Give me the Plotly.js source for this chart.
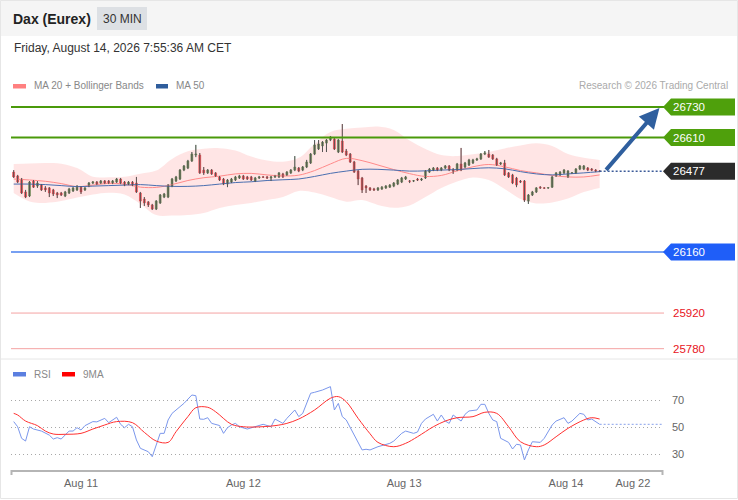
<!DOCTYPE html>
<html><head><meta charset="utf-8">
<script src="https://cdn.plot.ly/plotly-3.0.1.min.js"></script>
<style>html,body{margin:0;padding:0;background:#fff;overflow:hidden}#chart{width:738px;height:500px}</style>
</head><body><div id="chart"></div>
<script>
// ---- Candles (30 MIN bars, index 0..148) ----
const openP=[26474,26459,26447,26396,26380,26439,26419,26423,26412,26412,
26404,26392,26392,26380,26392,26400,26404,26415,26404,26419,
26431,26435,26431,26439,26439,26431,26435,26447,26435,26427,
26435,26431,26392,26368,26357,26345,26329,26353,26376,26376,
26419,26439,26447,26482,26490,26518,26541,26541,26482,26471,
26482,26471,26455,26447,26427,26435,26443,26451,26459,26455,
26455,26439,26451,26455,26455,26451,26455,26455,26467,26463,
26471,26482,26490,26482,26494,26510,26545,26565,26577,26588,
26600,26604,26553,26596,26557,26545,26514,26478,26451,26419,
26412,26408,26404,26408,26412,26415,26419,26427,26435,26447,
26439,26439,26447,26443,26451,26474,26482,26490,26482,26490,
26498,26482,26482,26506,26494,26502,26510,26522,26526,26545,
26545,26541,26526,26506,26510,26471,26463,26451,26439,26439,
26360,26384,26396,26415,26412,26412,26415,26459,26463,26471,
26455,26471,26471,26486,26486,26490,26486,26482,26478];
const closeP=[26455,26435,26392,26376,26435,26415,26431,26404,26404,26392,
26388,26384,26384,26396,26408,26412,26415,26396,26412,26431,
26435,26427,26439,26431,26431,26439,26447,26431,26423,26435,
26423,26396,26360,26353,26345,26329,26360,26384,26388,26423,
26447,26455,26482,26498,26518,26545,26545,26471,26471,26482,
26467,26459,26443,26427,26443,26447,26455,26459,26447,26447,
26443,26451,26455,26454,26451,26455,26459,26471,26455,26474,
26482,26494,26478,26494,26514,26545,26581,26585,26592,26600,
26612,26565,26600,26553,26541,26514,26474,26447,26404,26412,
26404,26404,26412,26415,26419,26423,26431,26443,26451,26455,
26438,26440,26443,26447,26478,26486,26490,26482,26490,26498,
26482,26478,26506,26482,26510,26522,26522,26526,26545,26549,
26533,26526,26502,26510,26463,26455,26431,26423,26435,26364,
26384,26396,26412,26412,26411,26413,26455,26471,26474,26482,
26478,26472,26486,26498,26498,26482,26482,26478,26477];
const highP=[26482,26463,26451,26404,26439,26443,26439,26427,26419,26415,
26408,26396,26396,26400,26412,26415,26423,26419,26415,26435,
26439,26439,26443,26443,26443,26443,26451,26451,26439,26439,
26439,26455,26396,26376,26360,26349,26364,26388,26392,26427,
26451,26459,26486,26502,26522,26553,26581,26549,26494,26486,
26486,26474,26459,26451,26447,26451,26459,26463,26463,26459,
26459,26455,26459,26459,26459,26459,26463,26474,26471,26478,
26486,26537,26494,26498,26522,26549,26600,26600,26596,26604,
26616,26608,26604,26663,26565,26549,26518,26482,26455,26423,
26415,26412,26415,26419,26423,26427,26435,26447,26455,26459,
26443,26443,26451,26451,26482,26490,26494,26494,26494,26502,
26502,26490,26510,26569,26514,26526,26526,26530,26549,26557,
26561,26545,26530,26514,26522,26474,26467,26455,26443,26443,
26388,26400,26415,26419,26415,26415,26459,26474,26478,26486,
26482,26474,26490,26502,26502,26494,26490,26486,26482];
const lowP=[26451,26431,26388,26372,26376,26412,26412,26400,26396,26376,
26380,26372,26380,26376,26388,26396,26400,26388,26400,26415,
26427,26423,26427,26427,26427,26427,26431,26427,26419,26423,
26419,26392,26333,26341,26337,26325,26325,26349,26372,26372,
26415,26435,26443,26478,26486,26514,26533,26467,26463,26467,
26463,26455,26439,26423,26415,26431,26439,26447,26443,26443,
26439,26435,26447,26451,26447,26439,26451,26451,26451,26459,
26467,26478,26474,26478,26490,26506,26541,26561,26553,26553,
26596,26561,26549,26549,26537,26510,26471,26423,26392,26392,
26400,26400,26400,26404,26408,26412,26415,26423,26431,26443,
26431,26435,26439,26439,26447,26471,26478,26478,26478,26486,
26478,26467,26478,26478,26490,26498,26506,26518,26522,26541,
26530,26522,26498,26502,26459,26451,26427,26415,26431,26357,
26349,26380,26392,26408,26408,26408,26412,26455,26459,26467,
26451,26467,26467,26482,26482,26478,26478,26474,26474];

// ---- Moving averages & Bollinger bands (sampled every 4 bars) ----
const maIdx=[0,4,8,12,16,20,24,28,32,36,40,44,48,52,56,60,64,68,72,76,80,84,88,92,96,100,104,108,112,116,120,124,128,132,136,140,144,148];
const ma20=[26447,26443,26438,26429,26417,26423,26430,26427,26415,26414,26425,26441,26452,26458,26467,26469,26463,26459,26462,26480,26506,26528,26519,26502,26484,26468,26457,26461,26479,26495,26504,26495,26480,26471,26461,26455,26455,26463];
const ma50=[26427,26427,26425,26421,26417,26419,26421,26423,26425,26421,26418,26418,26421,26427,26433,26436,26441,26444,26447,26457,26469,26478,26485,26485,26482,26478,26479,26482,26484,26488,26491,26487,26476,26467,26463,26467,26471,26476];
const bbUpper=[26506,26508,26510,26507,26490,26456,26454,26456,26468,26480,26526,26556,26566,26568,26559,26535,26520,26515,26530,26585,26632,26644,26649,26653,26640,26598,26565,26541,26537,26544,26553,26567,26579,26587,26577,26545,26530,26522];
const bbLower=[26392,26359,26353,26360,26374,26386,26393,26386,26349,26305,26303,26305,26313,26333,26345,26353,26364,26376,26400,26394,26376,26358,26364,26345,26334,26343,26376,26412,26437,26453,26443,26408,26368,26351,26355,26370,26396,26412];

// ---- Key levels ----
const resistances=[26730,26610];
const lastPrice=[26477];
const supports=[26160];
const lowerSupports=[25920,25780];

// ---- RSI panel ----
const rsiIdx=[0,1,2,3,4,5,7,8,9,10,11,12,13,14,15,16,17,18,20,21,23,24,26,27,28,29,30,31,32,34,35,36,37,38,39,40,42,43,45,46,47,48,49,50,52,53,54,55,56,57,59,61,63,65,66,68,69,71,72,73,75,76,78,80,81,82,83,84,86,88,89,90,92,95,96,98,99,101,102,103,104,106,107,108,109,110,111,113,114,115,117,118,119,120,121,122,123,125,126,127,128,129,130,131,133,134,136,137,139,140,141,143,144,145,146,148];
const rsiVal=[54,50.2,41.6,39.6,50.2,48.5,47,45.3,44,41.1,42.1,41.1,44,47,47,49.5,47.8,51,54,53.8,56.4,53.2,57.2,52,49.5,52,50.2,40.4,34.2,31.7,28,36.7,45.3,45.3,55.2,60.1,65,67.5,73.7,73.2,55.9,55.7,56.9,52.7,51.1,45.3,49.5,51.5,52.7,50.2,48.5,50.2,52,50.2,55.9,52.7,56.4,62.6,57.7,60.1,75,75.7,77.4,79.9,62.6,67.5,57.7,55.2,44,33,33.5,33,35.4,37.9,39.6,45.3,47,45.3,46.3,52.7,55.9,59.4,54.4,58.9,54.4,52.7,58.9,54.4,59.4,61.9,62.6,66.8,66.8,60.1,55.2,54,41.6,38.6,33.7,37.2,36.7,25.6,33,39.1,38.6,41.6,51.5,54.4,56.9,52.7,54.4,60.1,59.4,55.2,55.9,52];
const rsiMaIdx=[0,1,3,6,8,10,13,17,20,23,26,30,33,36,39,41,44,46,49,51,55,58,61,66,69,72,76,80,82,84,87,90,92,96,99,102,106,109,112,116,119,122,125,128,132,134,137,140,144,146,148];
const rsiMaVal=[60.1,58.9,54.4,51,47,44.8,44.6,45.3,48.5,51.5,54,53.2,46,39.6,38.6,46.5,57.7,64.3,64.6,61.3,52,50.2,50,51,52.7,55.9,62.6,71.3,72.5,68.7,56.4,45,38.6,35.4,37.9,42.8,50.2,54.4,56.9,57.7,60.9,60.1,50.2,39.1,35.4,36.7,42.8,49,55.2,56.9,55.9];
const rsiLevels=[30,50,70];

// ---- Time axis ----
const tickPos=[17,58,98.6,139.5,156.4];
const tickText=['Aug 11','Aug 12','Aug 13','Aug 14','Aug 22'];

// ---------------- build ----------------
const PW=738, PH=500;
const fx=x=>x/PW, fy=y=>1-y/PH;
const XMAX=164, XMIN=-0.68;
const FONT='"Liberation Sans", Arial, sans-serif';
const nBars=closeP.length;
const barIdx=closeP.map((_,i)=>i);
const lastIdx=nBars-1;

const wx=[], wy=[];
for(let i=0;i<nBars;i++){wx.push(i,i,null);wy.push(lowP[i],highP[i],null);}

const traces=[
 {type:'scatter',x:maIdx,y:bbLower,mode:'lines',line:{width:0,shape:'spline',smoothing:1},hoverinfo:'skip',xaxis:'x',yaxis:'y'},
 {type:'scatter',x:maIdx,y:bbUpper,mode:'lines',line:{width:0,shape:'spline',smoothing:1},fill:'tonexty',fillcolor:'rgba(255,160,160,0.28)',hoverinfo:'skip',xaxis:'x',yaxis:'y'},
 {type:'scatter',x:maIdx,y:ma20,mode:'lines',line:{width:1,color:'#ff8a8a',shape:'spline'},hoverinfo:'skip',xaxis:'x',yaxis:'y'},
 {type:'scatter',x:maIdx,y:ma50,mode:'lines',line:{width:1,color:'#4a6fb0',shape:'spline'},hoverinfo:'skip',xaxis:'x',yaxis:'y'},
 {type:'scatter',x:wx,y:wy,mode:'lines',line:{width:1,color:'#555'},hoverinfo:'skip',connectgaps:false,xaxis:'x',yaxis:'y'},
 {type:'candlestick',x:barIdx,open:openP,high:highP,low:lowP,close:closeP,xaxis:'x',yaxis:'y',
  increasing:{line:{color:'#327a32',width:0.5},fillcolor:'#327a32'},
  decreasing:{line:{color:'#e31b23',width:0.5},fillcolor:'#e31b23'},whiskerwidth:0,hoverinfo:'skip'},
 {type:'scatter',x:[lastIdx,XMAX],y:[lastPrice[0],lastPrice[0]],mode:'lines',line:{width:1.5,color:'#3d5c99',dash:'2px,2px'},hoverinfo:'skip',xaxis:'x',yaxis:'y'},
 // RSI
 {type:'scatter',x:rsiIdx,y:rsiVal,mode:'lines',line:{width:1,color:'#7b97ec'},hoverinfo:'skip',xaxis:'x2',yaxis:'y2'},
 {type:'scatter',x:rsiMaIdx,y:rsiMaVal,mode:'lines',line:{width:1,color:'#ff3030',shape:'spline'},hoverinfo:'skip',xaxis:'x2',yaxis:'y2'},
 {type:'scatter',x:[rsiIdx[rsiIdx.length-1],XMAX],y:[rsiVal[rsiVal.length-1],rsiVal[rsiVal.length-1]],mode:'lines',line:{width:1.2,color:'#9fb3ee',dash:'2px,2px'},hoverinfo:'skip',xaxis:'x2',yaxis:'y2'}
];

const shapes=[
 {type:'rect',xref:'paper',yref:'paper',x0:0,x1:1,y0:fy(36),y1:1,fillcolor:'#f5f5f5',line:{width:0},layer:'below'},
 {type:'rect',xref:'paper',yref:'paper',x0:fx(97),x1:fx(147),y0:fy(30),y1:fy(7),fillcolor:'#dde0e4',line:{width:0},layer:'below'},
 {type:'rect',xref:'paper',yref:'paper',x0:fx(0.5),x1:fx(737.5),y0:fy(498.5),y1:fy(0.5),line:{width:1,color:'#e6e6e6'}},
 {type:'line',xref:'paper',yref:'paper',x0:0,x1:1,y0:fy(359),y1:fy(359),line:{width:1,color:'#e6e6e6'}},
 // legend swatches
 {type:'rect',xref:'paper',yref:'paper',x0:fx(13),x1:fx(26),y0:fy(88.5),y1:fy(84),fillcolor:'#ff8080',line:{width:0}},
 {type:'rect',xref:'paper',yref:'paper',x0:fx(156),x1:fx(168),y0:fy(88.5),y1:fy(84),fillcolor:'#2f5d9c',line:{width:0}},
 {type:'rect',xref:'paper',yref:'paper',x0:fx(13),x1:fx(26),y0:fy(376.5),y1:fy(372),fillcolor:'#5b7fe0',line:{width:0}},
 {type:'rect',xref:'paper',yref:'paper',x0:fx(62),x1:fx(75),y0:fy(376.5),y1:fy(372),fillcolor:'#ff0000',line:{width:0}},
 // RSI axis end ticks
 {type:'line',xref:'paper',yref:'paper',x0:fx(11.5),x1:fx(11.5),y0:fy(470),y1:fy(475),line:{width:2,color:'#b5b5b5'}},
 {type:'line',xref:'paper',yref:'paper',x0:fx(662.5),x1:fx(662.5),y0:fy(470),y1:fy(475),line:{width:2,color:'#b5b5b5'}}
];
const annotations=[
 {xref:'paper',yref:'paper',x:fx(11),y:fy(18.5),xanchor:'left',yanchor:'middle',text:'<b>Dax (Eurex)</b>',showarrow:false,font:{size:14,color:'#222',family:FONT}},
 {xref:'paper',yref:'paper',x:fx(122),y:fy(18.5),xanchor:'center',yanchor:'middle',text:'30 MIN',showarrow:false,font:{size:12,color:'#333',family:FONT}},
 {xref:'paper',yref:'paper',x:fx(12),y:fy(48),xanchor:'left',yanchor:'middle',text:'Friday, August 14, 2026 7:55:36 AM CET',showarrow:false,font:{size:12,color:'#333',family:FONT}},
 {xref:'paper',yref:'paper',x:fx(32),y:fy(86),xanchor:'left',yanchor:'middle',text:'MA 20 + Bollinger Bands',showarrow:false,font:{size:10,color:'#888',family:FONT}},
 {xref:'paper',yref:'paper',x:fx(174),y:fy(86),xanchor:'left',yanchor:'middle',text:'MA 50',showarrow:false,font:{size:10,color:'#888',family:FONT}},
 {xref:'paper',yref:'paper',x:fx(730),y:fy(86),xanchor:'right',yanchor:'middle',text:'Research © 2026 Trading Central',showarrow:false,font:{size:10,color:'#aaa',family:FONT}},
 {xref:'paper',yref:'paper',x:fx(32),y:fy(374),xanchor:'left',yanchor:'middle',text:'RSI',showarrow:false,font:{size:10,color:'#888',family:FONT}},
 {xref:'paper',yref:'paper',x:fx(81),y:fy(374),xanchor:'left',yanchor:'middle',text:'9MA',showarrow:false,font:{size:10,color:'#888',family:FONT}},
 // forecast arrow
 {xref:'x',yref:'y',axref:'x',ayref:'y',x:XMAX-0.9,y:resistances[0]-4,ax:nBars+0.3,ay:lastPrice[0],showarrow:true,arrowhead:2,arrowsize:1,arrowwidth:4,arrowcolor:'#2f5f9e',text:'',standoff:0,startstandoff:0}
];

function addTag(v,color,lineColor,solidLine){
 if(solidLine) shapes.push({type:'line',xref:'paper',yref:'y',x0:fx(11),x1:fx(664),y0:v,y1:v,line:{width:2,color:lineColor}});
 shapes.push({type:'path',xref:'paper',yref:'y',xsizemode:'pixel',ysizemode:'pixel',xanchor:fx(663),yanchor:v,path:'M0,0L8,8.5L72,8.5L72,-8.5L8,-8.5Z',fillcolor:color,line:{width:0}});
 annotations.push({xref:'paper',yref:'y',x:fx(671),y:v,xanchor:'left',yanchor:'middle',text:String(v),showarrow:false,font:{size:11.5,color:'#fff',family:FONT}});
}
resistances.forEach(v=>addTag(v,'#4fa00c','#4a9a0a',true));
lastPrice.forEach(v=>addTag(v,'#2b2b2b','#2b2b2b',false));
supports.forEach(v=>addTag(v,'#1f5ef8','#77a0f2',true));
lowerSupports.forEach(v=>{
 shapes.push({type:'line',xref:'paper',yref:'y',x0:fx(11),x1:fx(664),y0:v,y1:v,line:{width:1,color:'#f4a3a3'}});
 annotations.push({xref:'paper',yref:'y',x:fx(671),y:v,xanchor:'left',yanchor:'middle',text:String(v),showarrow:false,font:{size:11.5,color:'#e8141c',family:FONT}});
});

const layout={
 width:PW,height:PH,margin:{l:0,r:0,t:0,b:0,autoexpand:false},
 paper_bgcolor:'#ffffff',plot_bgcolor:'rgba(0,0,0,0)',showlegend:false,
 font:{family:FONT,color:'#666'},
 xaxis:{domain:[fx(11),fx(663)],range:[XMIN,XMAX],visible:false,rangeslider:{visible:false},fixedrange:true},
 yaxis:{domain:[fy(357),fy(60)],range:[25747.3,26914.7],visible:false,fixedrange:true},
 xaxis2:{domain:[fx(11),fx(663)],range:[XMIN,XMAX],anchor:'y2',showline:true,linecolor:'#b5b5b5',linewidth:2,
   tickmode:'array',tickvals:tickPos,ticktext:tickText,ticks:'',showgrid:false,zeroline:false,
   tickfont:{size:11,color:'#666',family:FONT},ticklabelstandoff:2,fixedrange:true},
 yaxis2:{domain:[fy(470),fy(362)],range:[18.15,98.15],anchor:'x2',side:'right',tickmode:'array',tickvals:rsiLevels,
   showgrid:true,gridcolor:'#a8a8a8',griddash:'1px,3px',gridwidth:1,zeroline:false,showline:false,ticks:'',
   tickfont:{size:11,color:'#666',family:FONT},ticklabelstandoff:8,fixedrange:true},
 shapes:shapes,annotations:annotations
};
Plotly.newPlot('chart',traces,layout,{displayModeBar:false,staticPlot:true});
</script></body></html>
